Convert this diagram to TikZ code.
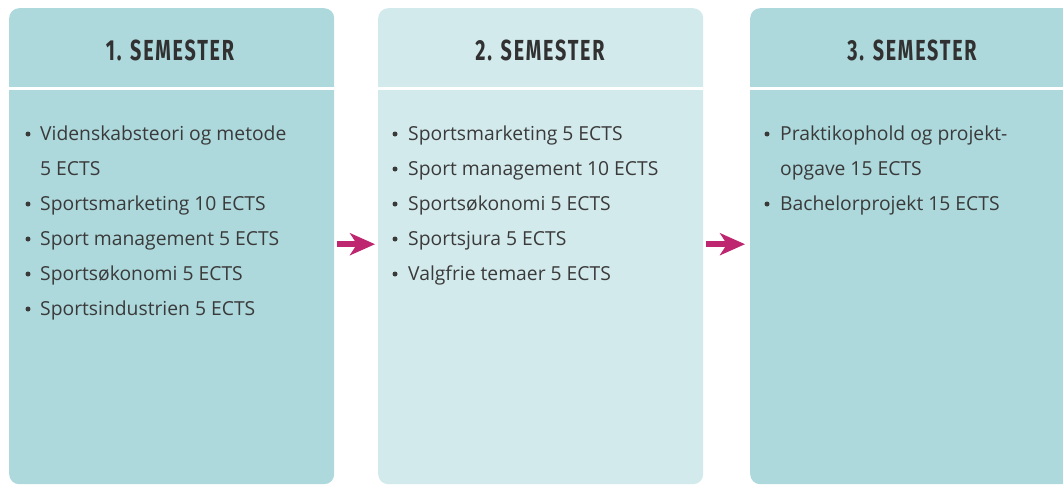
\documentclass[tikz,border=0pt]{standalone}
\usepackage{fontspec}
\usepackage{graphicx}
\usetikzlibrary{arrows.meta}
\setmainfont{Open Sans}
\newfontfamily\titlefont[LetterSpace=9]{Fira Sans}
\definecolor{boxdark}{HTML}{ADD8DC}
\definecolor{boxlight}{HTML}{D3EAED}
\definecolor{txt}{HTML}{3A3A3A}
\definecolor{arrowc}{HTML}{BE2670}
\tikzset{
  semester/.style={rounded corners=10pt, minimum width=325pt, minimum height=476pt, inner sep=0pt, draw=none},
  title/.style={font=\titlefont\bfseries\fontsize{29}{29}\selectfont, text=txt!85!black, anchor=center},
  item/.style={font=\fontsize{19.3}{19.3}\selectfont, text=txt, anchor=base west, inner sep=0pt},
  dot/.style={circle, fill=txt, inner sep=0pt, minimum size=5pt},
  flow/.style={draw=arrowc, line width=6pt, -{Stealth[length=25pt,width=22pt,inset=7pt]}}
}
\begin{document}
\begin{tikzpicture}[x=1pt,y=-1pt]
\useasboundingbox (0,0) rectangle (1063,485);
\clip (0,0) rectangle (1063,485);
% boxes
\node[semester, fill=boxdark, anchor=north west] (s1) at (9,8) {};
\node[semester, fill=boxlight, anchor=north west] (s2) at (378,8) {};
\node[semester, fill=boxdark, anchor=north west] (s3) at (750,8) {};
% header separators
\foreach \b in {s1,s2,s3}{
  \draw[white, line width=3pt] (\b.north west |- 0,88) -- (\b.north east |- 0,88);
}
% titles
\node[title] (t1) at (170,50) {\scalebox{0.68}[1]{1. SEMESTER}};
\node[title] (t2) at (540,50) {\scalebox{0.68}[1]{2. SEMESTER}};
\node[title] (t3) at (912,50) {\scalebox{0.68}[1]{3. SEMESTER}};
% items box 1
\foreach \y/\t/\b in {140/Videnskabsteori og metode/1, 175/5 ECTS/0, 210/Sportsmarketing 10 ECTS/1, 245/Sport management 5 ECTS/1, 280/Sportsøkonomi 5 ECTS/1, 315/Sportsindustrien 5 ECTS/1}{
  \node[item] at (40,\y) {\t};
  \ifnum\b=1 \node[dot] at (28,\y-6) {};\fi
}
% items box 2
\foreach \y/\t in {140/Sportsmarketing 5 ECTS, 175/Sport management 10 ECTS, 210/Sportsøkonomi 5 ECTS, 245/Sportsjura 5 ECTS, 280/Valgfrie temaer 5 ECTS}{
  \node[item] at (408,\y) {\t};
  \node[dot] at (395,\y-6) {};
}
% items box 3
\foreach \y/\t/\b in {140/Praktikophold og projekt-/1, 175/opgave 15 ECTS/0, 210/Bachelorprojekt 15 ECTS/1}{
  \node[item] at (780,\y) {\t};
  \ifnum\b=1 \node[dot] at (767,\y-6) {};\fi
}
% arrows
\draw[flow] ([xshift=3pt,yshift=2pt]s1.east) -- ([xshift=-3pt,yshift=2pt]s2.west);
\draw[flow] ([xshift=3pt,yshift=2pt]s2.east) -- ([xshift=-5pt,yshift=2pt]s3.west);
\end{tikzpicture}
\end{document}
